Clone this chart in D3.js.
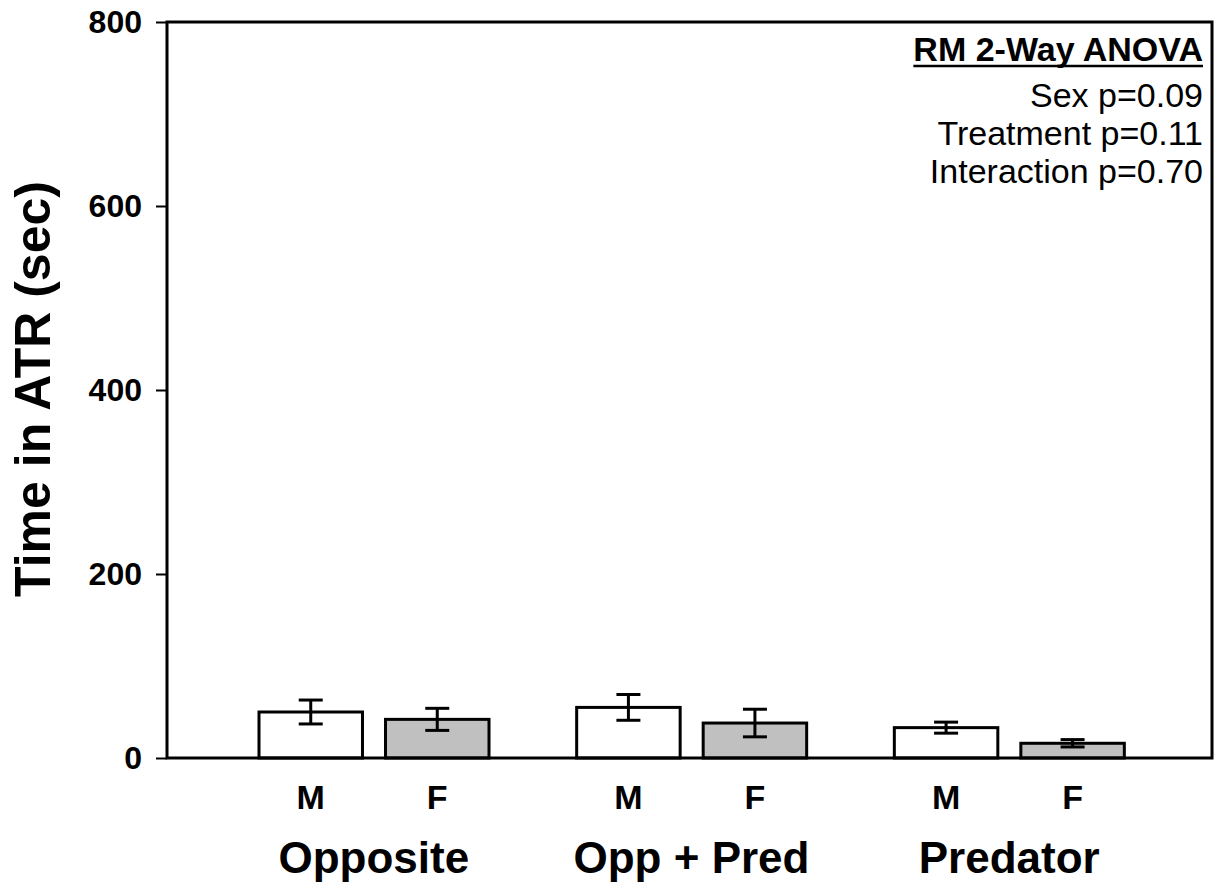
<!DOCTYPE html>
<html>
<head>
<meta charset="utf-8">
<script src="https://cdn.jsdelivr.net/npm/d3@7"></script>
<style>
  html, body { margin: 0; padding: 0; background: #fff; }
  svg { display: block; font-family: "Liberation Sans", Arial, sans-serif; }
</style>
</head>
<body>
<svg id="chart" width="1215" height="884"></svg>
<script>
// Treatment groups and sexes
const treatments = ["Opposite", "Opp + Pred", "Predator"];
const sexes = ["M", "F"];

// Mean time in ATR (sec) and SEM, ordered by treatment
const maleMeans = [50, 55, 33];
const maleSEM = [13, 14, 6];
const femaleMeans = [42, 38, 16];
const femaleSEM = [12, 15, 4];

const yTicks = [0, 200, 400, 600, 800];

const statsTitle = "RM 2-Way ANOVA";
const statsLines = ["Sex p=0.09", "Treatment p=0.11", "Interaction p=0.70"];

const fillBySex = { M: "#ffffff", F: "#c0c0c0" };

const rows = [];
treatments.forEach((t, i) => {
  rows.push({ treatment: t, sex: "M", mean: maleMeans[i], sem: maleSEM[i] });
  rows.push({ treatment: t, sex: "F", mean: femaleMeans[i], sem: femaleSEM[i] });
});

const svg = d3.select("#chart");
const frame = { left: 167, right: 1212, top: 22, bottom: 758 };

const y = d3.scaleLinear().domain([0, 800]).range([frame.bottom, frame.top]);
const x0 = d3.scaleBand().domain(treatments).range([215, 1168]).paddingInner(0);
const x1 = d3.scaleBand().domain(sexes).range([44, 274]).paddingInner(0.182);

// Bars
const bars = svg.append("g");
bars.selectAll("rect")
  .data(rows)
  .join("rect")
  .attr("x", d => x0(d.treatment) + x1(d.sex))
  .attr("y", d => y(d.mean))
  .attr("width", x1.bandwidth())
  .attr("height", d => y(0) - y(d.mean))
  .attr("fill", d => fillBySex[d.sex])
  .attr("stroke", "#000")
  .attr("stroke-width", 3);

// Error bars (mean ± SEM)
const capHalf = 12;
const err = svg.append("g").attr("stroke", "#000").attr("stroke-width", 3);
rows.forEach(d => {
  const cx = x0(d.treatment) + x1(d.sex) + x1.bandwidth() / 2;
  const yTop = y(d.mean + d.sem), yBot = y(d.mean - d.sem);
  err.append("line").attr("x1", cx).attr("x2", cx).attr("y1", yTop).attr("y2", yBot);
  err.append("line").attr("x1", cx - capHalf).attr("x2", cx + capHalf).attr("y1", yTop).attr("y2", yTop);
  err.append("line").attr("x1", cx - capHalf).attr("x2", cx + capHalf).attr("y1", yBot).attr("y2", yBot);
});

// Frame around the plot area
svg.append("rect")
  .attr("x", frame.left).attr("y", frame.top)
  .attr("width", frame.right - frame.left)
  .attr("height", frame.bottom - frame.top)
  .attr("fill", "none").attr("stroke", "#000").attr("stroke-width", 3);

// Y axis
const yAxis = d3.axisLeft(y).tickValues(yTicks).tickSize(11).tickPadding(14);
const gy = svg.append("g").attr("transform", `translate(${frame.left},0)`).call(yAxis);
gy.select(".domain").remove();
gy.selectAll(".tick line").attr("stroke", "#000").attr("stroke-width", 2);
gy.selectAll(".tick text")
  .attr("font-family", "Liberation Sans, Arial, sans-serif")
  .attr("font-size", 32).attr("font-weight", "bold").attr("fill", "#000");

// Y title
svg.append("text")
  .attr("transform", "translate(50,389) rotate(-90)")
  .attr("text-anchor", "middle")
  .attr("font-size", 50).attr("font-weight", "bold")
  .text("Time in ATR (sec)");

// Sex labels under bars
svg.append("g").selectAll("text")
  .data(rows)
  .join("text")
  .attr("x", d => x0(d.treatment) + x1(d.sex) + x1.bandwidth() / 2)
  .attr("y", 809)
  .attr("text-anchor", "middle")
  .attr("font-size", 34).attr("font-weight", "bold")
  .text(d => d.sex);

// Treatment labels
svg.append("g").selectAll("text")
  .data(treatments)
  .join("text")
  .attr("x", d => x0(d) + x0.bandwidth() / 2)
  .attr("y", 873)
  .attr("text-anchor", "middle")
  .attr("font-size", 44).attr("font-weight", "bold")
  .text(d => d);

// Statistics annotation
const statsX = 1203;
const title = svg.append("text")
  .attr("x", statsX).attr("y", 61)
  .attr("text-anchor", "end")
  .attr("font-size", 34).attr("font-weight", "bold")
  .text(statsTitle);
const tb = title.node().getBBox();
svg.append("line")
  .attr("x1", tb.x).attr("x2", tb.x + tb.width)
  .attr("y1", 66).attr("y2", 66)
  .attr("stroke", "#000").attr("stroke-width", 2.5);

svg.append("g").selectAll("text")
  .data(statsLines)
  .join("text")
  .attr("x", statsX)
  .attr("y", (d, i) => 107 + i * 38)
  .attr("text-anchor", "end")
  .attr("font-size", 34)
  .text(d => d);
</script>
</body>
</html>
